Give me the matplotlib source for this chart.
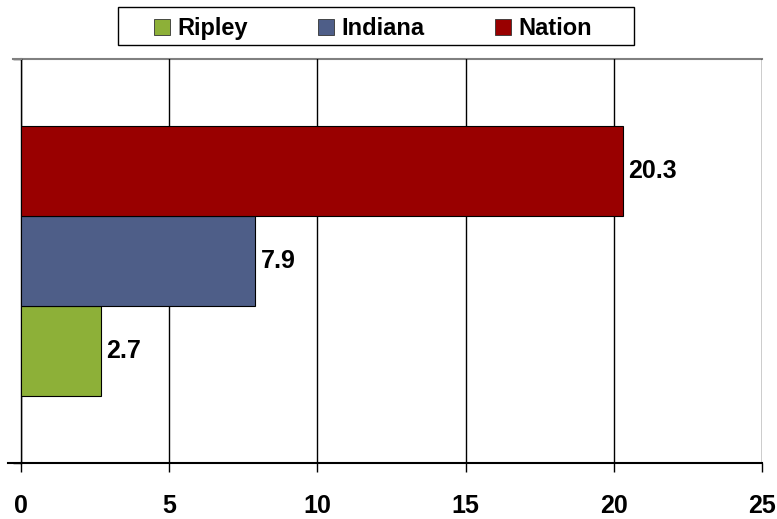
import matplotlib
matplotlib.use("Agg")
import matplotlib.pyplot as plt
from matplotlib.patches import Patch, Rectangle
from matplotlib.lines import Line2D

series = ["Ripley", "Indiana", "Nation"]
values = [2.7, 7.9, 20.3]
colors = ["#8DB038", "#4E5E88", "#990000"]
xticks = [0, 5, 10, 15, 20, 25]

plt.rcParams['font.family'] = ['Liberation Sans', 'DejaVu Sans']
FS = 18
LFS = 17
FW = "bold"

W, H = 777, 519
fig = plt.figure(figsize=(W / 100, H / 100), dpi=100)
ax = fig.add_axes([21/W, (H-463)/H, (762-21)/W, (463-59)/H])

ypos = [-1, 0, 1]
for y, v, c, s in zip(ypos, values, colors, series):
    ax.barh(y, v, height=1.0, color=c, edgecolor="black", linewidth=0.8, label=s, zorder=3)
    ax.text(v + 0.18, y, f"{v:.1f}", va="center", ha="left", fontsize=FS, fontweight=FW, zorder=4)

ax.set_xlim(0, 25)
ax.set_ylim(-2.25, 2.25)
ax.set_xticks(xticks)
ax.set_xticklabels([str(t) for t in xticks], fontsize=FS, fontweight=FW)
ax.set_yticks([-2.25, 2.25])
ax.set_yticklabels([])
ax.tick_params(axis="y", length=6, width=1, color="black", direction="out")
ax.tick_params(axis="x", length=6.5, width=1, color="black", direction="out", pad=16)
ax.grid(axis="x", color="black", linewidth=1, zorder=0)
for sp in ["top", "right"]:
    ax.spines[sp].set_visible(False)
ax.spines["left"].set_linewidth(1)
ax.spines["bottom"].set_linewidth(1.5)
ax.axhline(2.25, color="#808080", linewidth=1.5, zorder=1, clip_on=False)

# extensions of the top and bottom lines to the left of the axis
fig.add_artist(Line2D([13/W, 21/W], [(H-59)/H, (H-59)/H], color="#808080", linewidth=1.5))
fig.add_artist(Line2D([8/W, 21/W], [(H-463)/H, (H-463)/H], color="black", linewidth=1.5))

# legend box
fig.add_artist(Rectangle((118/W, (H-45)/H), (634-118)/W, 38/H, transform=fig.transFigure,
                         facecolor="white", edgecolor="black", linewidth=1, zorder=1))
handles = [Patch(facecolor=c, edgecolor="#333333", linewidth=0.6) for c in colors]
leg = fig.legend(handles, series, loc="center", bbox_to_anchor=(373/W, 1 - 28.5/H),
                 ncol=3, prop={"size": LFS, "weight": FW}, frameon=False,
                 handlelength=0.68, handleheight=0.68, handletextpad=0.3,
                 columnspacing=3.0, borderpad=0, borderaxespad=0)
leg.set_zorder(2)

fig.savefig("out.png", dpi=100)
